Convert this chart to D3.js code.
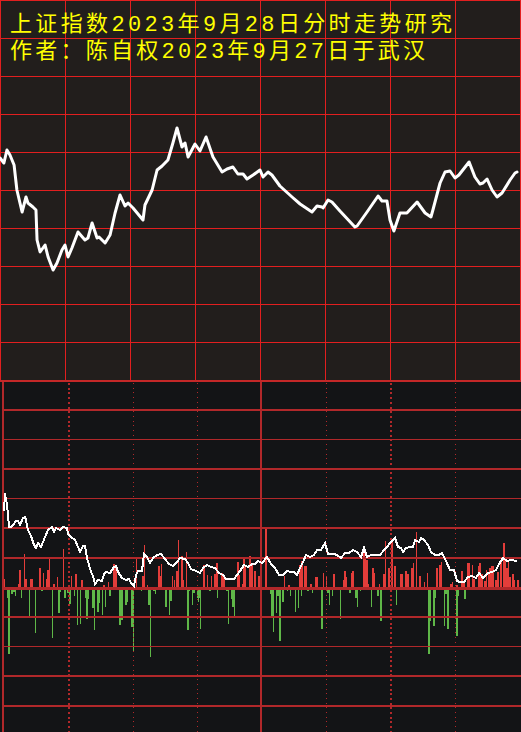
<!DOCTYPE html>
<html><head><meta charset="utf-8">
<script src="https://cdn.jsdelivr.net/npm/d3@7"></script>
<style>html,body{margin:0;padding:0;background:#131416;overflow:hidden}</style>
</head><body><script>
// ---------- DATA ----------
const titleLines = ["上证指数2023年9月28日分时走势研究", "作者：陈自权2023年9月27日于武汉"];

// upper panel: intraday index path (minutes since open, index points)
const topMinutes = [0,1.8,3.2,4.6,6.5,7.8,10.2,12.0,12.9,15.2,
16.6,17.1,18.5,20.8,22.2,24.5,26.3,28.6,30.0,31.4,
33.2,36.0,39.2,40.6,42.5,44.8,45.7,48.5,50.8,53.1,
55.4,57.7,59.1,61.4,66.0,66.9,70.2,72.5,74.8,77.5,
79.8,81.7,84.0,85.4,86.8,90.0,92.3,95.1,98.3,102.5,
104.8,107.5,109.8,112.2,114.0,116.8,120.0,121.4,123.7,125.5,
129.2,134.8,138.5,144.0,146.3,148.6,149.1,151.4,153.2,156.9,
163.8,164.8,169.4,174.5,176.3,178.6,180.0,181.8,184.6,187.8,
192.5,196.2,198.9,199.8,203.1,205.4,207.7,210.0,211.8,216.5,
219.2,221.5,222.9,224.8,227.1,229.4,231.7,235.4,237.7,238.6];
const topValues = [3104.4,3103.4,3106.0,3105.0,3103.0,3098.0,3093.6,3096.6,3095.4,3094.6,
3094.0,3088.0,3085.6,3087.0,3084.6,3082.0,3083.4,3086.0,3087.0,3084.6,
3086.4,3089.6,3088.0,3088.4,3091.4,3088.4,3088.6,3087.4,3089.0,3093.4,
3097.0,3094.8,3095.4,3094.4,3092.0,3095.0,3098.0,3102.0,3102.8,3104.0,
3107.4,3110.4,3106.6,3107.4,3104.6,3107.2,3105.8,3108.6,3104.6,3101.6,
3102.2,3102.6,3101.2,3101.2,3100.2,3101.0,3102.0,3100.6,3101.6,3101.0,
3098.8,3096.6,3095.2,3093.6,3094.8,3094.6,3094.4,3096.0,3095.6,3093.8,
3090.6,3090.8,3093.6,3096.8,3095.8,3095.8,3092.0,3089.8,3093.4,3093.4,
3095.6,3093.4,3092.6,3094.0,3099.4,3101.6,3101.8,3100.4,3101.0,3103.6,
3100.6,3099.2,3099.4,3100.2,3098.0,3096.6,3097.4,3100.0,3101.4,3101.6];

// lower panel: sample index (0..516 across the session) and line values
const lowerIdx = [0,1,2,3,5,7,9,12,14,16,19,21,22,24,27,30,32,34,37,41,44,48,50,52,56,59,63,64,67,71,
74,76,79,81,83,85,87,89,91,94,98,100,102,106,110,112,114,118,122,125,127,130,132,134,138,140,143,146,149,153,
157,161,165,169,173,176,181,184,187,192,196,199,203,207,211,215,219,222,230,233,236,240,244,248,251,254,258,263,267,271,
275,279,283,287,290,293,296,299,302,306,310,313,317,321,324,330,333,337,341,345,349,353,357,360,363,367,371,376,380,383,
386,388,391,394,397,399,402,406,409,411,415,417,420,424,427,431,435,438,442,446,450,453,456,460,464,468,472,475,479,484,
488,492,495,499,503,507,513];
const lowerValues = [77,95,88,84,61,61,63,67,67,63,70,71,68,58,52,43,40,45,41,51,58,61,56,60,58,61,60,54,51,48,
41,36,42,42,30,23,16,12,4,8,7,14,16,15,21,22,16,10,8,9,5,2,13,17,17,34,31,25,30,33,
34,29,24,22,26,30,29,25,19,17,15,20,23,21,20,15,13,9,9,13,17,23,21,24,24,27,25,31,24,20,
13,13,17,16,16,13,20,26,33,31,33,38,38,45,34,34,33,30,35,35,38,36,31,40,31,33,33,33,38,41,
45,47,50,41,40,36,40,41,41,48,46,50,48,43,36,33,33,35,27,18,18,7,6,6,11,12,10,15,10,15,
16,18,24,30,27,28,27];

// lower panel bars: [startIdx, endIdx, value]
const upBars = [[0,1,9],[14,15,4],[15,17,18],[20,21,34],[21,23,9],[26,29,9],[35,37,20],[39,40,15],[42,43,9],[43,45,18],
[45,46,31],[49,51,4],[53,54,11],[59,60,39],[67,68,12],[71,73,14],[77,79,8],[99,101,3],[104,105,6],[109,111,24],
[111,113,22],[132,133,29],[138,140,12],[140,141,43],[143,144,3],[154,156,22],[156,157,12],[157,158,24],[168,169,12],[170,171,8],
[172,174,17],[174,175,48],[177,179,32],[179,180,8],[182,183,36],[199,201,23],[203,204,13],[207,208,12],[210,212,14],[212,214,25],
[217,219,15],[219,221,11],[233,235,26],[235,236,13],[238,239,4],[239,241,31],[241,242,21],[245,247,32],[247,249,23],[250,252,17],
[254,256,12],[261,263,59],[280,281,12],[284,286,3],[295,297,23],[297,299,27],[300,303,22],[306,308,4],[311,314,11],[319,320,15],
[322,323,12],[329,331,14],[339,340,8],[340,342,17],[342,343,11],[347,348,15],[348,350,17],[359,361,37],[361,362,29],[362,364,28],
[364,365,4],[368,370,20],[370,371,15],[375,376,4],[379,381,14],[381,382,47],[384,386,20],[387,389,46],[390,392,22],[396,399,14],
[401,403,17],[403,405,14],[407,409,20],[409,410,25],[412,413,56],[415,417,12],[420,421,6],[423,424,15],[432,434,20],[435,437,23],
[437,438,26],[446,448,4],[448,449,6],[452,454,3],[457,459,17],[459,461,6],[463,466,25],[468,469,23],[469,471,9],[474,475,22],
[475,477,25],[477,479,14],[480,482,7],[482,483,18],[484,485,15],[485,487,20],[487,490,22],[491,493,8],[493,495,16],[496,498,26],
[499,501,45],[501,502,30],[502,504,20],[504,505,28],[505,507,11],[508,510,14],[510,511,8],[513,515,8]];
const downBars = [[3,4,-10],[4,6,-66],[7,9,-6],[9,11,-4],[11,12,-8],[17,18,-10],[25,26,-28],[31,32,-45],[37,39,-3],[48,49,-50],
[54,56,-25],[56,57,-4],[60,62,-10],[63,65,-5],[65,67,-16],[70,71,-8],[73,74,-37],[76,77,-36],[81,82,-10],[82,84,-31],
[84,85,-11],[88,90,-20],[90,91,-42],[93,95,-24],[95,96,-15],[98,99,-27],[101,102,-19],[105,107,-8],[115,117,-37],[117,119,-32],
[121,123,-17],[123,124,-14],[127,129,-39],[129,130,-63],[137,138,-3],[144,146,-17],[146,147,-69],[149,151,-3],[151,152,-6],[161,163,-19],
[165,166,-27],[166,168,-13],[183,185,-42],[185,186,-3],[188,189,-17],[189,191,-5],[193,194,-10],[194,195,-14],[195,196,-10],[196,197,-41],
[205,207,-3],[213,214,-10],[222,224,-3],[224,225,-36],[227,228,-11],[228,230,-19],[230,231,-28],[256,258,-11],[266,267,-6],[267,269,-30],
[269,270,-44],[273,275,-8],[272,273,-25],[275,277,-53],[278,280,-14],[283,284,-3],[286,287,-8],[291,292,-24],[294,295,-20],[297,298,-8],
[303,305,-3],[308,309,-5],[317,319,-41],[323,325,-5],[325,326,-17],[328,329,-8],[336,337,-31],[345,347,-5],[351,353,-10],[353,354,-19],
[356,357,-3],[367,368,-19],[373,375,-8],[376,378,-33],[392,393,-17],[395,396,-2],[418,420,-2],[424,426,-66],[426,427,-33],[429,431,-38],
[431,432,-10],[440,441,-38],[441,443,-6],[443,445,-41],[452,454,-48],[454,455,-8],[460,462,-11]];

// grid definitions
const sessionMinutes = [0,30,60,90,120,150,180,210,240];
const topLevels = [3060,3067.6,3075.2,3082.8,3090.4,3098,3105.6,3113.2,3120.8,3128.4,3136];
const lowerRows = [1,2,3,4,5,6,7,8,9,10,11];
const thinRows = [2,4,9];
const zeroRow = 7;

// ---------- DRAW ----------
const W = 521, H = 732, TOPH = 380;
const svg = d3.select("body").append("svg").attr("width",W).attr("height",H).style("display","block");

const C = {topBg:"#221e1c", botBg:"#131416", topGrid:"#e21f1f", botGrid:"#b1282a",
           up:"#e33d3a", down:"#5fb748", line:"#ffffff", title:"#ffff00"};

svg.append("rect").attr("x",0).attr("y",0).attr("width",W).attr("height",TOPH).attr("fill",C.topBg);
svg.append("rect").attr("x",0).attr("y",TOPH).attr("width",W).attr("height",H-TOPH).attr("fill",C.botBg);

// ---- upper panel ----
const xTop = d3.scaleLinear().domain([0,240]).range([0,520]);
const yTop = d3.scaleLinear().domain([3060,3136]).range([TOPH,0]);
const gT = svg.append("g").attr("stroke",C.topGrid).attr("stroke-width",1).attr("shape-rendering","crispEdges");
gT.selectAll("line.v").data(sessionMinutes).join("line")
  .attr("x1",d=>Math.round(xTop(d))+0.5).attr("x2",d=>Math.round(xTop(d))+0.5)
  .attr("y1",0).attr("y2",TOPH);
gT.selectAll("line.h").data(topLevels).join("line")
  .attr("x1",0).attr("x2",W).attr("y1",d=>Math.round(yTop(d))+0.5).attr("y2",d=>Math.round(yTop(d))+0.5);

svg.selectAll("text.title").data(titleLines).join("text").attr("class","title")
  .attr("x",10).attr("y",(d,i)=>31+i*27)
  .attr("fill",C.title).attr("font-family","'Liberation Mono', 'Noto Sans CJK SC', monospace").attr("font-size",22)
  .attr("textLength",(d,i)=>[442,415][i]).attr("lengthAdjust","spacing")
  .text(d=>d);

const topLine = d3.line().x((d,i)=>xTop(topMinutes[i])).y(d=>yTop(d));
svg.append("path").datum(topValues).attr("d",topLine).attr("fill","none")
  .attr("stroke",C.line).attr("stroke-width",3).attr("stroke-linejoin","round").attr("stroke-linecap","round");

// ---- lower panel ----
const xIdx = d3.scaleLinear().domain([0,516]).range([4,520]);
const xMin = d3.scaleLinear().domain([0,240]).range([4,520]);
const yBar = d3.scaleLinear().domain([-100,100]).range([688,488]);
const yRow = d3.scaleLinear().domain([0,12]).range([TOPH,735.2]);

const gB = svg.append("g").attr("shape-rendering","crispEdges");
gB.selectAll("rect.up").data(upBars).join("rect")
  .attr("x",d=>xIdx(d[0])).attr("width",d=>xIdx(d[1])-xIdx(d[0]))
  .attr("y",d=>yBar(d[2])).attr("height",d=>yBar(0)-yBar(d[2])).attr("fill",C.up);
gB.selectAll("rect.down").data(downBars).join("rect")
  .attr("x",d=>xIdx(d[0])).attr("width",d=>xIdx(d[1])-xIdx(d[0]))
  .attr("y",yBar(0)).attr("height",d=>yBar(d[2])-yBar(0)).attr("fill",C.down);

const gG = svg.append("g").attr("shape-rendering","crispEdges");
gG.selectAll("rect.row").data(lowerRows).join("rect")
  .attr("x",2).attr("width",W-2)
  .attr("y",d=>{const y=yRow(d); return d===zeroRow?Math.round(y):thinRows.includes(d)?Math.round(y):Math.round(y)-1;})
  .attr("height",d=>d===zeroRow?3:thinRows.includes(d)?1:2)
  .attr("fill",C.botGrid);
// vertical time lines
const boldMarks = [30,180];
gG.selectAll("line.dot").data([30,60,90,150,180,210]).join("line")
  .attr("x1",d=>boldMarks.includes(d)?Math.round(xMin(d)):Math.floor(xMin(d))+0.5)
  .attr("x2",d=>boldMarks.includes(d)?Math.round(xMin(d)):Math.floor(xMin(d))+0.5)
  .attr("y1",TOPH+3).attr("y2",H)
  .attr("stroke",C.botGrid)
  .attr("stroke-width",d=>boldMarks.includes(d)?2:1)
  .attr("stroke-dasharray",d=>boldMarks.includes(d)?"2,2.7":"1,3.7");
gG.append("rect").attr("x",Math.round(xMin(120))-2).attr("width",2).attr("y",TOPH).attr("height",H-TOPH).attr("fill",C.botGrid);
gG.append("rect").attr("x",2).attr("width",2).attr("y",TOPH).attr("height",H-TOPH).attr("fill",C.botGrid);
gG.append("rect").attr("x",0).attr("width",W).attr("y",TOPH).attr("height",1.5).attr("fill","#c42828");

const lowLine = d3.line().x((d,i)=>xIdx(lowerIdx[i])).y(d=>yBar(d));
svg.append("path").datum(lowerValues).attr("d",lowLine).attr("fill","none")
  .attr("stroke",C.line).attr("stroke-width",2).attr("shape-rendering","crispEdges");
</script></body></html>
